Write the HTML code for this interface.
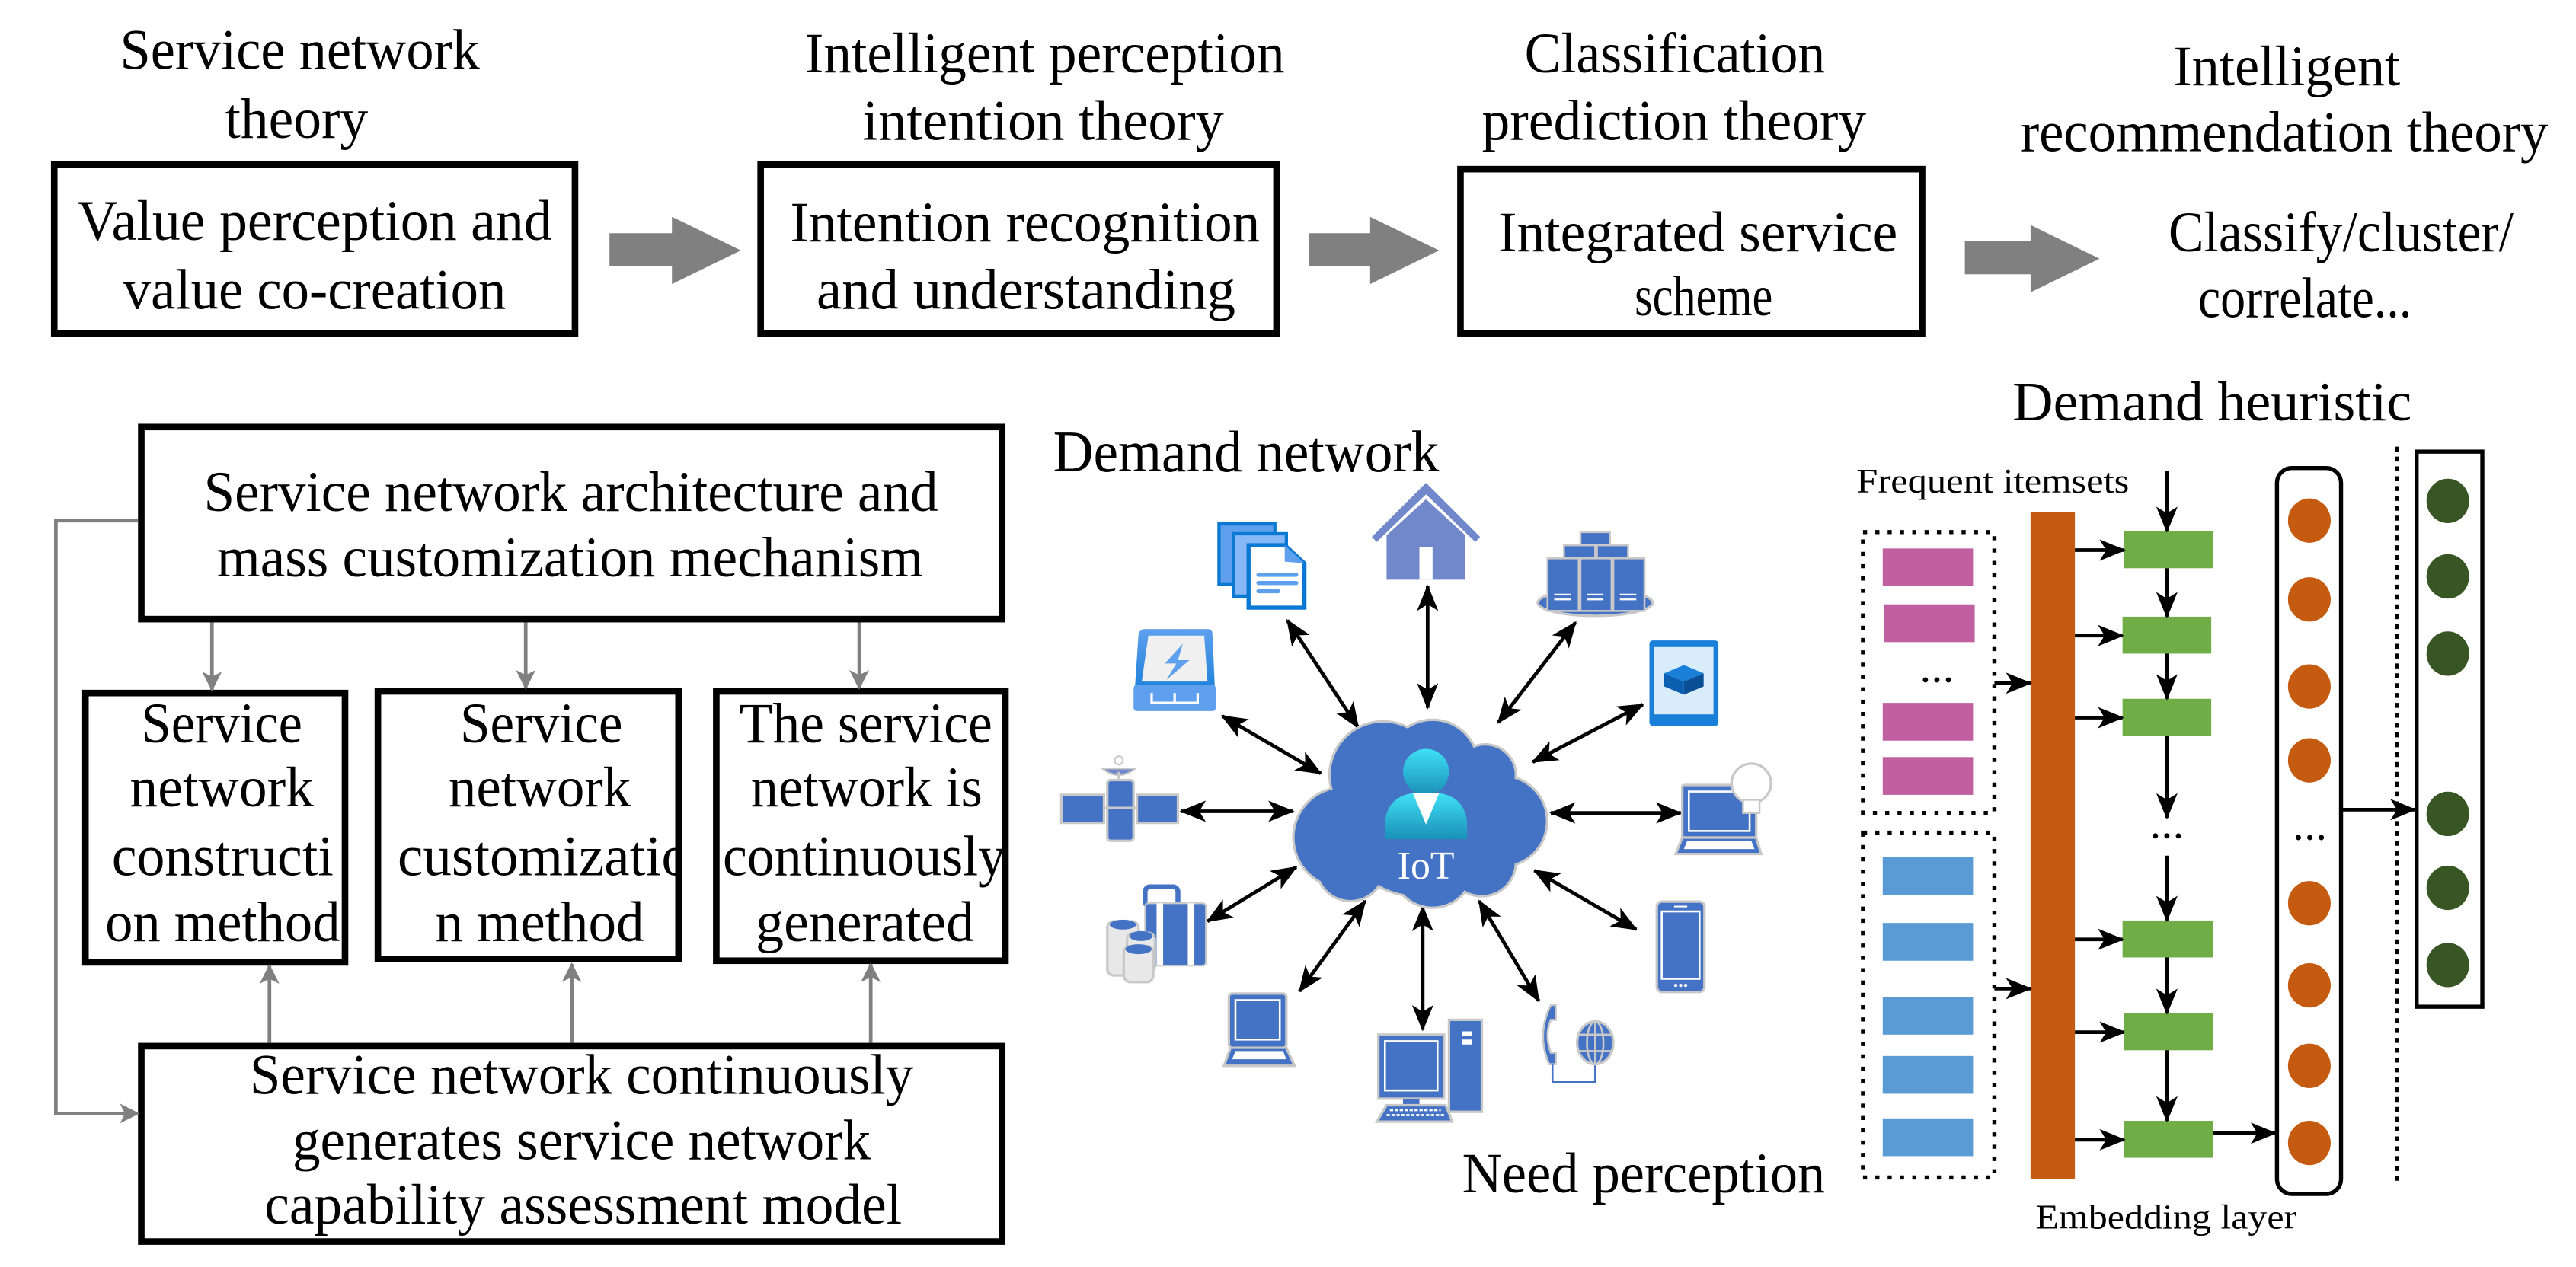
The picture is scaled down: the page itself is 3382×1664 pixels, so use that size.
<!DOCTYPE html>
<html><head><meta charset="utf-8"><style>html,body{margin:0;padding:0;background:#fff}svg{display:block}text{font-family:"Liberation Serif",serif;fill:#000}</style></head>
<body>
<svg width="3382" height="1664" viewBox="0 0 1568 771.5" xmlns="http://www.w3.org/2000/svg" font-family="Liberation Serif, serif">
<defs>
<marker id="ah" markerUnits="userSpaceOnUse" markerWidth="16" markerHeight="13" refX="15" refY="6.5" orient="auto"><path d="M0,0 L16,6.5 L0,13 L4,6.5 z" fill="#000"/></marker>
<marker id="as" markerUnits="userSpaceOnUse" markerWidth="16" markerHeight="13" refX="1" refY="6.5" orient="auto"><path d="M16,0 L0,6.5 L16,13 L12,6.5 z" fill="#000"/></marker>
<marker id="ag" markerUnits="userSpaceOnUse" markerWidth="12" markerHeight="12" refX="11" refY="6" orient="auto"><path d="M0,0 L12,6 L0,12 L3,6 z" fill="#808080"/></marker>
<linearGradient id="pg" x1="0" y1="0" x2="0" y2="1"><stop offset="0" stop-color="#3fe0f5"/><stop offset="1" stop-color="#1a90b8"/></linearGradient>
<linearGradient id="dg" x1="0" y1="0" x2="0" y2="1"><stop offset="0" stop-color="#5fa0ee"/><stop offset="1" stop-color="#0b78d4"/></linearGradient>
<clipPath id="cb"><rect x="230" y="421" width="183" height="163"/></clipPath>
</defs>

<!-- Top titles -->
<g font-size="35">
<text x="73" y="42" textLength="219" lengthAdjust="spacingAndGlyphs">Service network</text>
<text x="137" y="84" textLength="87" lengthAdjust="spacingAndGlyphs">theory</text>
<text x="490" y="44" textLength="292" lengthAdjust="spacingAndGlyphs">Intelligent perception</text>
<text x="525" y="85" textLength="220" lengthAdjust="spacingAndGlyphs">intention theory</text>
<text x="928" y="44" textLength="183" lengthAdjust="spacingAndGlyphs">Classification</text>
<text x="902" y="85" textLength="234" lengthAdjust="spacingAndGlyphs">prediction theory</text>
<text x="1323" y="52" textLength="138" lengthAdjust="spacingAndGlyphs">Intelligent</text>
<text x="1230" y="92" textLength="321" lengthAdjust="spacingAndGlyphs">recommendation theory</text>
<text x="47" y="146" textLength="289" lengthAdjust="spacingAndGlyphs">Value perception and</text>
<text x="75" y="188" textLength="233" lengthAdjust="spacingAndGlyphs">value co-creation</text>
<text x="481" y="147" textLength="286" lengthAdjust="spacingAndGlyphs">Intention recognition</text>
<text x="497" y="188" textLength="255" lengthAdjust="spacingAndGlyphs">and understanding</text>
<text x="912" y="153" textLength="243" lengthAdjust="spacingAndGlyphs">Integrated service</text>
<text x="995" y="192" textLength="84" lengthAdjust="spacingAndGlyphs">scheme</text>
<text x="1320" y="153" textLength="210" lengthAdjust="spacingAndGlyphs">Classify/cluster/</text>
<text x="1338" y="193" textLength="130" lengthAdjust="spacingAndGlyphs">correlate...</text>
</g>
<g fill="none" stroke="#000" stroke-width="4">
<rect x="33" y="100" width="317" height="103"/>
<rect x="463" y="100" width="314" height="103"/>
<rect x="889" y="103" width="281" height="100"/>
</g>
<g fill="#808080">
<polygon points="371,142 409,142 409,132 451,152.5 409,173 409,162 371,162"/>
<polygon points="797,142 834,142 834,132 876,152.5 834,173 834,162 797,162"/>
<polygon points="1196,147 1236,147 1236,137 1278,157.5 1236,178 1236,167 1196,167"/>
</g>

<!-- Bottom left -->
<g fill="none" stroke="#000" stroke-width="4">
<rect x="86" y="260" width="524" height="117"/>
<rect x="52" y="422" width="158" height="164"/>
<rect x="230" y="421" width="183" height="163"/>
<rect x="436" y="421" width="176" height="164"/>
<rect x="86" y="637" width="524" height="119"/>
</g>
<g font-size="35">
<text x="124" y="311" textLength="447" lengthAdjust="spacingAndGlyphs">Service network architecture and</text>
<text x="132" y="351" textLength="430" lengthAdjust="spacingAndGlyphs">mass customization mechanism</text>
<text x="86" y="452" textLength="98" lengthAdjust="spacingAndGlyphs">Service</text>
<text x="79" y="491" textLength="112" lengthAdjust="spacingAndGlyphs">network</text>
<text x="68" y="533" textLength="135" lengthAdjust="spacingAndGlyphs">constructi</text>
<text x="64" y="573" textLength="143" lengthAdjust="spacingAndGlyphs">on method</text>
<text x="280" y="452" textLength="99" lengthAdjust="spacingAndGlyphs">Service</text>
<text x="273" y="491" textLength="111" lengthAdjust="spacingAndGlyphs">network</text>
<g clip-path="url(#cb)"><text x="242" y="533" textLength="178" lengthAdjust="spacingAndGlyphs">customizatio</text></g>
<text x="265" y="573" textLength="127" lengthAdjust="spacingAndGlyphs">n method</text>
<text x="450" y="452" textLength="154" lengthAdjust="spacingAndGlyphs">The service</text>
<text x="457" y="491" textLength="141" lengthAdjust="spacingAndGlyphs">network is</text>
<text x="440" y="533" textLength="172" lengthAdjust="spacingAndGlyphs">continuously</text>
<text x="460" y="573" textLength="133" lengthAdjust="spacingAndGlyphs">generated</text>
<text x="152" y="666" textLength="404" lengthAdjust="spacingAndGlyphs">Service network continuously</text>
<text x="178" y="706" textLength="352" lengthAdjust="spacingAndGlyphs">generates service network</text>
<text x="161" y="745" textLength="388" lengthAdjust="spacingAndGlyphs">capability assessment model</text>
</g>
<g stroke="#808080" stroke-width="2.2" fill="none" marker-end="url(#ag)">
<line x1="129" y1="379" x2="129" y2="420"/>
<line x1="320" y1="379" x2="320" y2="419"/>
<line x1="523" y1="379" x2="523" y2="419"/>
<line x1="164" y1="635" x2="164" y2="588"/>
<line x1="348" y1="635" x2="348" y2="587"/>
<line x1="530" y1="635" x2="530" y2="587"/>
<polyline points="84,317 34,317 34,678 84,678"/>
</g>

<!-- Middle IoT -->
<text x="641" y="287" font-size="36" textLength="235" lengthAdjust="spacingAndGlyphs">Demand network</text>
<text x="890" y="726" font-size="35" textLength="221" lengthAdjust="spacingAndGlyphs">Need perception</text>

<g stroke="#000" stroke-width="2.2" marker-end="url(#ah)" marker-start="url(#as)">
<line x1="869" y1="357" x2="869" y2="431"/>
<line x1="783.6" y1="377.7" x2="826.7" y2="443"/>
<line x1="959" y1="379" x2="912" y2="440"/>
<line x1="1000" y1="429" x2="933" y2="464"/>
<line x1="1023" y1="495" x2="944" y2="495"/>
<line x1="996" y1="566" x2="934" y2="530"/>
<line x1="936.6" y1="609.5" x2="900.4" y2="548.6"/>
<line x1="866" y1="627" x2="866" y2="552"/>
<line x1="791" y1="603.6" x2="831" y2="548.6"/>
<line x1="735" y1="561" x2="789" y2="528"/>
<line x1="719" y1="494" x2="787" y2="494"/>
<line x1="744" y1="436" x2="804" y2="471"/>
</g>

<!-- cloud -->
<g stroke="#c8c8c8" stroke-width="3" fill="#4472c4">
<circle cx="862" cy="500" r="45"/><circle cx="818" cy="510" r="30"/><circle cx="842" cy="472" r="32"/><circle cx="872" cy="466" r="27"/><circle cx="904" cy="472" r="18"/><circle cx="914" cy="500" r="27"/><circle cx="872" cy="528" r="24"/><circle cx="822" cy="528" r="20"/><circle cx="902" cy="525" r="20"/>
</g>
<g fill="#4472c4">
<circle cx="862" cy="500" r="45"/><circle cx="818" cy="510" r="30"/><circle cx="842" cy="472" r="32"/><circle cx="872" cy="466" r="27"/><circle cx="904" cy="472" r="18"/><circle cx="914" cy="500" r="27"/><circle cx="872" cy="528" r="24"/><circle cx="822" cy="528" r="20"/><circle cx="902" cy="525" r="20"/>
</g>
<circle cx="868" cy="470" r="14" fill="url(#pg)"/>
<path d="M843,511 L843,500 Q845,485 860,483 L876,483 Q891,485 893,500 L893,511 Z" fill="url(#pg)"/>
<polygon points="860,483 876,483 868,502" fill="#fff"/>
<text x="868" y="535" font-size="24" text-anchor="middle" style="fill:#fff">IoT</text>

<!-- docs -->
<rect x="742" y="319" width="34" height="37" fill="#5fa0ee" stroke="#0b78d4" stroke-width="2"/>
<rect x="751" y="325" width="32" height="38" fill="#86b8f8" stroke="#0b78d4" stroke-width="2"/>
<path d="M760,332 L782,332 L794,343 L794,370 L760,370 Z" fill="#fff" stroke="#0b78d4" stroke-width="2.5"/>
<path d="M782,332 L782,342 L794,343" fill="#5fa0ee"/>
<g stroke="#5fa0ee" stroke-width="2.5" stroke-linecap="round"><line x1="766" y1="350" x2="789" y2="350"/><line x1="766" y1="355" x2="789" y2="355"/><line x1="766" y1="360" x2="778" y2="360"/></g>
<!-- house -->
<polygon points="868,294 901,327 898,330 868,301 838,330 835,327" fill="#7189cb"/>
<polygon points="868,304 892,326 892,353 844,353 844,326" fill="#7189cb"/>
<rect x="864" y="333" width="8" height="20" fill="#fff"/>
<!-- servers -->
<ellipse cx="971" cy="367" rx="35" ry="8" fill="#4472c4" stroke="#c8c8c8" stroke-width="1.5"/>
<g fill="#4472c4" stroke="#c8c8c8" stroke-width="1.2">
<rect x="962" y="324" width="18" height="8"/><rect x="952" y="332" width="19" height="8"/><rect x="972" y="332" width="19" height="8"/>
<rect x="942" y="340" width="19" height="32"/><rect x="962" y="340" width="19" height="32"/><rect x="982" y="340" width="19" height="32"/></g>
<g stroke="#fff" stroke-width="1"><line x1="946" y1="362" x2="956" y2="362"/><line x1="946" y1="365" x2="956" y2="365"/><line x1="966" y1="362" x2="976" y2="362"/><line x1="966" y1="365" x2="976" y2="365"/><line x1="986" y1="362" x2="996" y2="362"/><line x1="986" y1="365" x2="996" y2="365"/></g>
<!-- tablet -->
<rect x="1004" y="390" width="42" height="52" rx="2" fill="#1a7fd9"/>
<rect x="1007" y="394" width="36" height="41" fill="#d9ecfb"/>
<polygon points="1025,405 1037,410 1025,415 1013,410" fill="#1a7fd9"/><polygon points="1013,410 1025,415 1025,423 1013,418" fill="#0b5fb0"/><polygon points="1025,415 1037,410 1037,418 1025,423" fill="#0a4f95"/>
<!-- drive -->
<path d="M697,383 L735,383 Q738,383 738,386 L740,431 L690,431 L693,386 Q694,383 697,383 Z" fill="url(#dg)"/>
<polygon points="699,387 733,387 735,415 695,415" fill="#f0f0f0"/>
<polygon points="720,392 709,404 716,404 710,414 724,402 717,402" fill="#5fa0ee"/>
<rect x="690" y="417" width="50" height="16" rx="2" fill="#5fa0ee"/>
<polyline points="701,422 701,428 729,428 729,422" fill="none" stroke="#fff" stroke-width="1.5"/><line x1="715" y1="422" x2="715" y2="428" stroke="#fff" stroke-width="1.5"/>
<!-- satellite -->
<g fill="#4472c4" stroke="#c8c8c8" stroke-width="1.5">
<rect x="646" y="484" width="26" height="17"/><rect x="692" y="484" width="25" height="17"/><rect x="674" y="475" width="16" height="37" rx="2"/></g>
<line x1="672" y1="492" x2="692" y2="492" stroke="#c8c8c8" stroke-width="1.5"/>
<path d="M671,468 Q681,476 691,468 Z" fill="#7189cb" stroke="#c8c8c8"/>
<line x1="681" y1="470" x2="681" y2="475" stroke="#c8c8c8" stroke-width="1.5"/>
<circle cx="681" cy="463" r="2.5" fill="none" stroke="#c8c8c8"/>
<!-- suitcase -->
<rect x="697" y="540" width="20" height="12" rx="3" fill="none" stroke="#4472c4" stroke-width="3"/>
<rect x="697" y="550" width="37" height="38" rx="2" fill="#4472c4" stroke="#c8c8c8" stroke-width="1"/>
<rect x="704" y="550" width="4" height="38" fill="#fff"/><rect x="723" y="550" width="4" height="38" fill="#fff"/>
<g fill="#e8e8e8" stroke="#c8c8c8" stroke-width="1.5">
<rect x="674" y="561" width="19" height="33" rx="4"/><rect x="686" y="568" width="17" height="24" rx="4"/><rect x="684" y="576" width="18" height="22" rx="4"/></g>
<g fill="#4472c4"><ellipse cx="683.5" cy="563" rx="8" ry="3"/><ellipse cx="694.5" cy="570" rx="7" ry="3"/><ellipse cx="693" cy="578" rx="8" ry="3"/></g>
<!-- laptop left -->
<rect x="748" y="605" width="35" height="33" rx="2" fill="#4472c4" stroke="#c8c8c8" stroke-width="1.5"/>
<rect x="752" y="609" width="27" height="24" fill="none" stroke="#fff" stroke-width="1.2"/>
<polygon points="749,638 783,638 788,649 745,649" fill="#4472c4" stroke="#c8c8c8" stroke-width="1.5"/>
<polygon points="752,640 781,640 783,645 750,645" fill="#fff"/>
<!-- desktop -->
<rect x="882" y="621" width="20" height="56" fill="#4472c4" stroke="#c8c8c8" stroke-width="1.5"/>
<rect x="890" y="628" width="6" height="3" fill="#fff"/><rect x="890" y="633" width="6" height="3" fill="#fff"/>
<rect x="839" y="630" width="40" height="39" fill="#4472c4" stroke="#c8c8c8" stroke-width="1.5"/>
<rect x="843" y="634" width="32" height="30" fill="none" stroke="#fff" stroke-width="1.2"/>
<rect x="854" y="669" width="10" height="4" fill="#4472c4"/>
<polygon points="844,673 880,673 884,683 838,683" fill="#4472c4" stroke="#c8c8c8" stroke-width="1.5"/>
<g stroke="#fff" stroke-width="1.3" stroke-dasharray="2 1"><line x1="846" y1="676" x2="877" y2="676"/><line x1="844" y1="679" x2="879" y2="679"/></g>
<!-- telephone globe -->
<path d="M944,612 L947,612 L947,621 L944,621 Q940,630 944,641 L947,641 L947,648 L943,648 Q935,630 944,612 Z" fill="#4472c4" stroke="#c8c8c8" stroke-width="1.2"/>
<polyline points="945,648 945,659 971,659 971,648" fill="none" stroke="#4472c4" stroke-width="1.2"/>
<ellipse cx="971" cy="635" rx="11" ry="13" fill="#4472c4" stroke="#c8c8c8" stroke-width="1.5"/>
<g stroke="#c8c8c8" stroke-width="1.2" fill="none"><ellipse cx="971" cy="635" rx="5" ry="13"/><line x1="971" y1="622" x2="971" y2="648"/><line x1="960" y1="630" x2="982" y2="630"/><line x1="960" y1="640" x2="982" y2="640"/></g>
<!-- phone -->
<rect x="1008.5" y="549" width="29" height="55" rx="3" fill="#4472c4" stroke="#c8c8c8" stroke-width="1.5"/>
<rect x="1011.5" y="555" width="23" height="41" fill="none" stroke="#fff" stroke-width="1.2"/>
<line x1="1019" y1="552" x2="1027" y2="552" stroke="#fff" stroke-width="1"/>
<g fill="#fff"><circle cx="1020" cy="600" r="1"/><circle cx="1023" cy="600" r="1"/><circle cx="1026" cy="600" r="1"/></g>
<!-- laptop bulb -->
<rect x="1024" y="478" width="45" height="32" rx="1" fill="#4472c4" stroke="#c8c8c8" stroke-width="1.5"/>
<rect x="1028" y="482" width="37" height="24" fill="none" stroke="#fff" stroke-width="1.2"/>
<polygon points="1024,510 1069,510 1072,520 1020,520" fill="#4472c4" stroke="#c8c8c8" stroke-width="1.5"/>
<polygon points="1027,512 1066,512 1068,517 1025,517" fill="#fff"/>
<circle cx="1066" cy="477" r="12" fill="#fff" stroke="#c8c8c8" stroke-width="1.5"/>
<rect x="1061" y="487" width="10" height="8" fill="#fff" stroke="#c8c8c8" stroke-width="1.2"/>

<!-- Right panel -->
<text x="1225" y="256" font-size="34" textLength="243" lengthAdjust="spacingAndGlyphs">Demand heuristic</text>
<text x="1130" y="300" font-size="21" textLength="166" lengthAdjust="spacingAndGlyphs">Frequent itemsets</text>
<text x="1239" y="748" font-size="21" textLength="159" lengthAdjust="spacingAndGlyphs">Embedding layer</text>
<g fill="none" stroke="#000" stroke-width="2.5" stroke-dasharray="2.5 5">
<rect x="1134" y="324" width="80" height="171"/>
<rect x="1134" y="507" width="80" height="210"/>
<line x1="1459" y1="272" x2="1459" y2="719" stroke-dasharray="3 3"/>
</g>
<g fill="#c060a0">
<rect x="1146" y="334" width="55" height="23"/><rect x="1147" y="368" width="55" height="23"/><rect x="1146" y="428" width="55" height="23"/><rect x="1146" y="461" width="55" height="23"/></g>
<g fill="#000"><circle cx="1172" cy="414" r="1.6"/><circle cx="1179" cy="414" r="1.6"/><circle cx="1186" cy="414" r="1.6"/>
<circle cx="1312" cy="509" r="1.6"/><circle cx="1319" cy="509" r="1.6"/><circle cx="1326" cy="509" r="1.6"/>
<circle cx="1399" cy="510" r="1.6"/><circle cx="1406" cy="510" r="1.6"/><circle cx="1413" cy="510" r="1.6"/></g>
<g fill="#5b9bd5">
<rect x="1146" y="522" width="55" height="23"/><rect x="1146" y="562" width="55" height="23"/><rect x="1146" y="607" width="55" height="23"/><rect x="1146" y="643" width="55" height="23"/><rect x="1146" y="681" width="55" height="23"/></g>
<rect x="1236" y="312" width="27" height="406" fill="#c55a11"/>
<g fill="#70ad47">
<rect x="1293" y="323.5" width="54" height="22.5"/><rect x="1292" y="375.5" width="54" height="22.5"/><rect x="1292" y="425.5" width="54" height="22.5"/>
<rect x="1292" y="560.5" width="55" height="22.5"/><rect x="1293" y="617" width="54" height="22.5"/><rect x="1293" y="682.5" width="54" height="22.5"/></g>
<g stroke="#000" stroke-width="2.2" marker-end="url(#ah)">
<line x1="1319" y1="287" x2="1319" y2="323.5"/>
<line x1="1319" y1="346" x2="1319" y2="375.5"/>
<line x1="1319" y1="398" x2="1319" y2="425.5"/>
<line x1="1319" y1="448" x2="1319" y2="498"/>
<line x1="1319" y1="521" x2="1319" y2="560.5"/>
<line x1="1319" y1="583" x2="1319" y2="617"/>
<line x1="1319" y1="639.5" x2="1319" y2="682.5"/>
<line x1="1263" y1="335" x2="1293" y2="335"/>
<line x1="1263" y1="387" x2="1292" y2="387"/>
<line x1="1263" y1="437" x2="1292" y2="437"/>
<line x1="1263" y1="572" x2="1292" y2="572"/>
<line x1="1263" y1="628.5" x2="1293" y2="628.5"/>
<line x1="1263" y1="694" x2="1293" y2="694"/>
<line x1="1214" y1="416" x2="1236" y2="416"/>
<line x1="1214" y1="602" x2="1236" y2="602"/>
<line x1="1347" y1="690" x2="1385" y2="690"/>
<line x1="1425" y1="493" x2="1470" y2="493"/>
</g>
<rect x="1386" y="285" width="39" height="442" rx="9" fill="none" stroke="#000" stroke-width="2.5"/>
<g fill="#c55a11">
<ellipse cx="1405.7" cy="317" rx="13" ry="13.5"/><ellipse cx="1405.7" cy="365" rx="13" ry="13.5"/><ellipse cx="1405.7" cy="418" rx="13" ry="13.5"/><ellipse cx="1405.7" cy="463" rx="13" ry="13.5"/>
<ellipse cx="1405.7" cy="550" rx="13" ry="13.5"/><ellipse cx="1405.7" cy="600" rx="13" ry="13.5"/><ellipse cx="1405.7" cy="649" rx="13" ry="13.5"/><ellipse cx="1405.7" cy="696" rx="13" ry="13.5"/></g>
<rect x="1471" y="275" width="40" height="338" fill="none" stroke="#000" stroke-width="2.5"/>
<g fill="#375623">
<ellipse cx="1490" cy="305" rx="13" ry="13.5"/><ellipse cx="1490" cy="351" rx="13" ry="13.5"/><ellipse cx="1490" cy="398" rx="13" ry="13.5"/>
<ellipse cx="1490" cy="495.6" rx="13" ry="13.5"/><ellipse cx="1490" cy="540.6" rx="13" ry="13.5"/><ellipse cx="1490" cy="587.6" rx="13" ry="13.5"/></g>
</svg>
</body></html>
